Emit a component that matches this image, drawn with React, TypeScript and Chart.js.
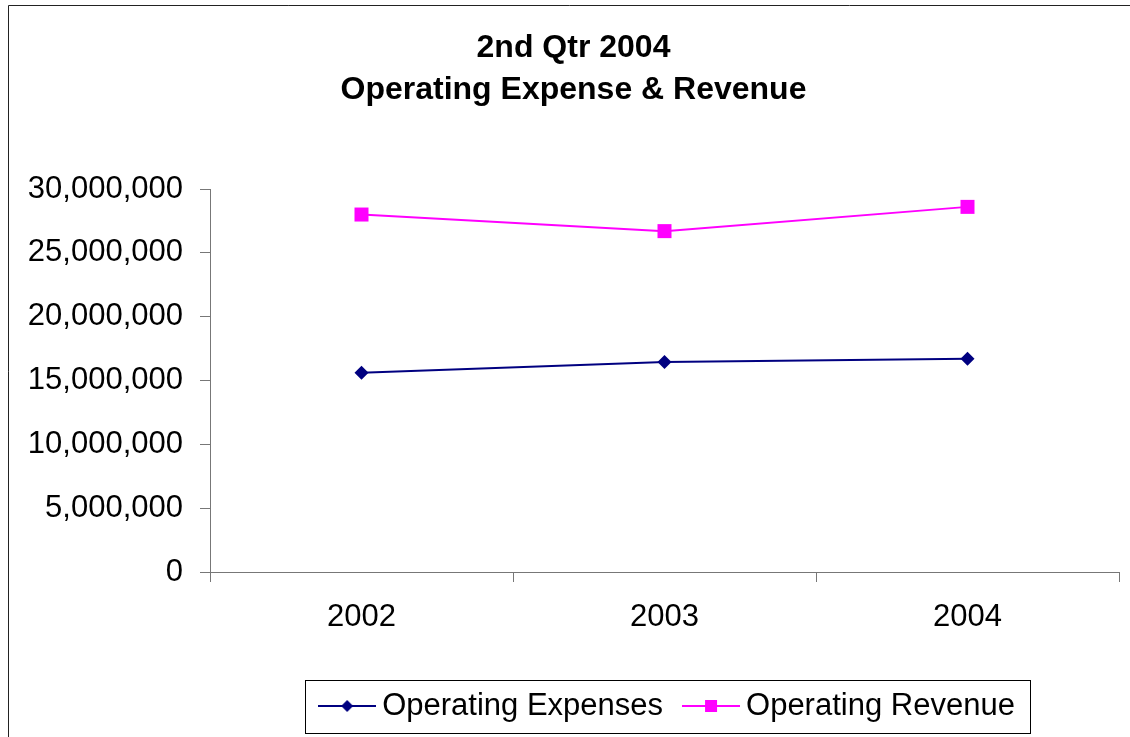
import React, { useEffect, useRef } from "react";
import { Chart, registerables } from "chart.js";

Chart.register(...registerables);

const categories = ["2002", "2003", "2004"];
const seriesNames = ["Operating Expenses", "Operating Revenue"];
const operatingExpenses = [15600000, 16450000, 16700000];
const operatingRevenue = [28000000, 26700000, 28600000];
const yMin = 0;
const yMax = 30000000;
const yStep = 5000000;
const titleLines = ["2nd Qtr 2004", "Operating Expense & Revenue"];

const EXP_COLOR = "#000080";
const REV_COLOR = "#FF00FF";
const AXIS_COLOR = "#777777";
const FONT = "'Liberation Sans', Arial, Helvetica, sans-serif";

function legendIcon(color: string, shape: "diamond" | "square") {
  const c = document.createElement("canvas");
  c.width = 58;
  c.height = 16;
  const ctx = c.getContext("2d")!;
  ctx.strokeStyle = color;
  ctx.lineWidth = 2;
  ctx.beginPath();
  ctx.moveTo(0, 8);
  ctx.lineTo(58, 8);
  ctx.stroke();
  ctx.fillStyle = color;
  if (shape === "diamond") {
    ctx.beginPath();
    ctx.moveTo(29, 2);
    ctx.lineTo(35, 8);
    ctx.lineTo(29, 14);
    ctx.lineTo(23, 8);
    ctx.closePath();
    ctx.fill();
  } else {
    ctx.fillRect(23, 2, 12, 12);
  }
  return c;
}

const framePlugin = {
  id: "framePlugin",
  afterLayout(chart: any) {
    const t = chart.titleBlock;
    if (t) {
      const w = t.right - t.left;
      t.left = 573.5 - w / 2;
      t.right = t.left + w;
    }
    const l = chart.legend;
    if (l) {
      const w = l.right - l.left;
      l.left = 671.25 - w / 2;
      l.right = l.left + w;
    }
  },
  afterDraw(chart: any) {
    const ctx = chart.ctx;
    ctx.save();
    ctx.strokeStyle = "#222222";
    ctx.lineWidth = 1;
    ctx.beginPath();
    ctx.moveTo(8.5, 737);
    ctx.lineTo(8.5, 5.5);
    ctx.lineTo(1130, 5.5);
    ctx.stroke();
    const l = chart.legend;
    if (l && l.legendHitBoxes && l.legendHitBoxes.length) {
      const hb = l.legendHitBoxes;
      const first = hb[0];
      const last = hb[hb.length - 1];
      const cy = first.top + first.height / 2;
      const left = Math.round(first.left - 22.5) + 0.5;
      const right = Math.round(last.left + last.width + 15) + 0.5;
      const top = Math.round(cy - 26) + 0.5;
      const bottom = Math.round(cy + 27) + 0.5;
      ctx.strokeStyle = "#000000";
      ctx.strokeRect(left, top, right - left, bottom - top);
    }
    ctx.restore();
  },
};

export default function App() {
  const canvasRef = useRef<HTMLCanvasElement | null>(null);

  useEffect(() => {
    if (!canvasRef.current) return;
    const icons = [legendIcon(EXP_COLOR, "diamond"), legendIcon(REV_COLOR, "square")];
    const chart = new Chart(canvasRef.current, {
      type: "line",
      data: {
        labels: categories,
        datasets: [
          {
            label: seriesNames[0],
            data: operatingExpenses,
            borderColor: EXP_COLOR,
            backgroundColor: EXP_COLOR,
            borderWidth: 2,
            pointStyle: "rectRot",
            pointRadius: 7,
            pointBorderWidth: 0,
            pointBackgroundColor: EXP_COLOR,
            tension: 0,
          },
          {
            label: seriesNames[1],
            data: operatingRevenue,
            borderColor: REV_COLOR,
            backgroundColor: REV_COLOR,
            borderWidth: 2,
            pointStyle: "rect",
            pointRadius: 9.9,
            pointBorderWidth: 0,
            pointBackgroundColor: REV_COLOR,
            tension: 0,
          },
        ],
      },
      options: {
        responsive: false,
        animation: false,
        events: [],
        layout: { padding: { left: 0, right: 11, top: 0, bottom: 5.5 } },
        plugins: {
          tooltip: { enabled: false },
          title: {
            display: true,
            text: titleLines,
            color: "#000000",
            font: { family: FONT, size: 32, weight: "bold", lineHeight: 42 / 32 },
            padding: { top: 27, bottom: 78 },
          },
          legend: {
            display: true,
            position: "bottom",
            labels: {
              color: "#000000",
              font: { family: FONT, size: 31 },
              usePointStyle: true,
              pointStyleWidth: 39,
              padding: 28.5,
              generateLabels: (ch: any) =>
                ch.data.datasets.map((ds: any, i: number) => ({
                  text: ds.label,
                  pointStyle: icons[i],
                  fillStyle: ds.borderColor,
                  strokeStyle: ds.borderColor,
                  lineWidth: 0,
                  hidden: false,
                  datasetIndex: i,
                  fontColor: "#000000",
                })),
            },
          },
        },
        scales: {
          x: {
            type: "category",
            offset: true,
            afterFit: (s: any) => {
              s.height = 90;
            },
            border: { display: true, color: AXIS_COLOR, width: 1 },
            grid: {
              display: true,
              drawOnChartArea: false,
              drawTicks: true,
              tickLength: 10,
              color: AXIS_COLOR,
              offset: true,
            },
            ticks: {
              color: "#000000",
              font: { family: FONT, size: 31 },
              padding: 16.4,
              maxRotation: 0,
            },
          },
          y: {
            min: yMin,
            max: yMax,
            afterFit: (s: any) => {
              s.width = 210;
            },
            border: { display: true, color: AXIS_COLOR, width: 1 },
            grid: {
              display: true,
              drawOnChartArea: false,
              drawTicks: true,
              tickLength: 10,
              color: AXIS_COLOR,
            },
            ticks: {
              stepSize: yStep,
              color: "#000000",
              font: { family: FONT, size: 31 },
              padding: 17,
              callback: (v: any) => Number(v).toLocaleString("en-US"),
            },
          },
        },
      },
      plugins: [framePlugin],
    });
    return () => chart.destroy();
  }, []);

  return (
    <div style={{ position: "fixed", left: 0, top: 0, width: 1130, height: 737, background: "#ffffff" }}>
      <canvas ref={canvasRef} width={1130} height={737} style={{ display: "block" }} />
    </div>
  );
}
